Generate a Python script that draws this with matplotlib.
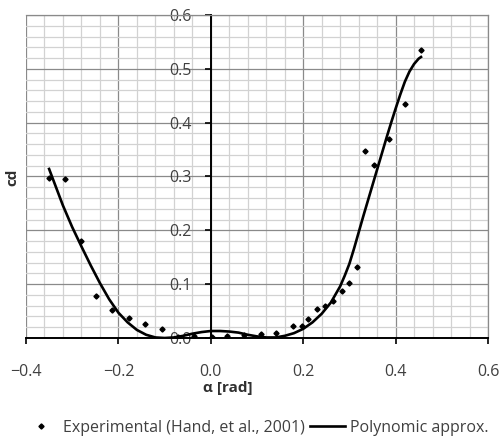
import numpy as np
import matplotlib
matplotlib.use('Agg')
import matplotlib.pyplot as plt
from matplotlib.ticker import MultipleLocator

# Experimental points (Hand, et al., 2001)
alpha_exp = [-0.351, -0.316, -0.281, -0.248, -0.213, -0.176, -0.143, -0.106, -0.072, -0.037,
             0.002, 0.035, 0.072, 0.108, 0.141, 0.178, 0.197, 0.211, 0.230, 0.248,
             0.265, 0.283, 0.300, 0.316, 0.333, 0.353, 0.386, 0.421, 0.456]
cd_exp = [0.298, 0.295, 0.181, 0.078, 0.052, 0.038, 0.026, 0.017, 0.001, 0.003,
          0.001, 0.003, 0.005, 0.007, 0.010, 0.023, 0.022, 0.036, 0.054, 0.060,
          0.069, 0.087, 0.103, 0.131, 0.348, 0.321, 0.370, 0.435, 0.535]

# Polynomial approximation
alpha_fit = [-0.350, -0.335, -0.320, -0.300, -0.280, -0.260, -0.240, -0.220, -0.200, -0.180,
             -0.160, -0.140, -0.120, -0.100, -0.080, -0.060, -0.040, -0.020, 0.000, 0.020,
             0.040, 0.060, 0.080, 0.100, 0.120, 0.140, 0.160, 0.180, 0.200, 0.220,
             0.240, 0.260, 0.280, 0.290, 0.300, 0.310, 0.320, 0.330, 0.340, 0.350,
             0.360, 0.370, 0.380, 0.390, 0.400, 0.410, 0.420, 0.430, 0.440, 0.450, 0.455]
cd_fit = [0.314, 0.280, 0.246, 0.206, 0.170, 0.135, 0.102, 0.072, 0.047, 0.029,
          0.015, 0.006, 0.001, 0.000, 0.001, 0.004, 0.008, 0.011, 0.013, 0.013,
          0.012, 0.010, 0.006, 0.003, 0.001, 0.001, 0.004, 0.009, 0.017, 0.029,
          0.045, 0.066, 0.096, 0.116, 0.138, 0.166, 0.196, 0.226, 0.255, 0.284,
          0.313, 0.342, 0.371, 0.399, 0.426, 0.452, 0.476, 0.495, 0.509, 0.519, 0.522]

plt.rcParams['font.family'] = ['Open Sans', 'DejaVu Sans']

W, H = 499, 442
fig = plt.figure(figsize=(W / 100, H / 100), dpi=100)
ax = fig.add_axes([26 / W, 1 - 338 / H, (488 - 26) / W, (338 - 15) / H])

ax.set_xlim(-0.4, 0.6)
ax.set_ylim(0, 0.6)

ax.xaxis.set_major_locator(MultipleLocator(0.2))
ax.xaxis.set_minor_locator(MultipleLocator(0.04))
ax.yaxis.set_major_locator(MultipleLocator(0.1))
ax.yaxis.set_minor_locator(MultipleLocator(0.02))

ax.grid(which='minor', color='#d2d2d2', lw=0.9)
ax.grid(which='major', color='#8a8a8a', lw=0.9)
ax.set_axisbelow(True)

ax.spines['left'].set_position(('data', 0))
ax.spines['left'].set_color('black')
ax.spines['left'].set_linewidth(1.4)
ax.spines['bottom'].set_linewidth(1.4)
for side in ['top', 'right']:
    ax.spines[side].set_color('#8a8a8a')
    ax.spines[side].set_linewidth(0.9)

ax.tick_params(which='minor', length=0)
ax.tick_params(axis='y', which='major', direction='out', length=4, width=1.2,
               pad=10, labelsize=11.5, color='black', labelcolor='#404040')
ax.tick_params(axis='x', which='major', direction='out', length=4, width=1.2,
               pad=15, labelsize=11.5, labelcolor='#404040')

ax.plot(alpha_exp, cd_exp, linestyle='none', marker='D', ms=2.6, color='black',
        label='Experimental (Hand, et al., 2001)', zorder=3)
ax.plot(alpha_fit, cd_fit, color='black', lw=1.9, label='Polynomic approx.', zorder=4)

fig.text(12 / W, 1 - 177 / H, 'cd', rotation=90, ha='center', va='center',
         fontsize=11, fontweight='bold', color='#303030')
fig.text(228 / W, 1 - 388 / H, 'α [rad]', ha='center', va='center',
         fontsize=11, fontweight='bold', color='#303030')

leg = fig.legend(loc='center', bbox_to_anchor=(256 / W, 1 - 428 / H), ncol=2,
                 frameon=False, fontsize=11.5, handlelength=2.2, handletextpad=0.3,
                 columnspacing=0.3)
for t in leg.get_texts():
    t.set_color('#404040')

fig.savefig('out.png', dpi=100)
